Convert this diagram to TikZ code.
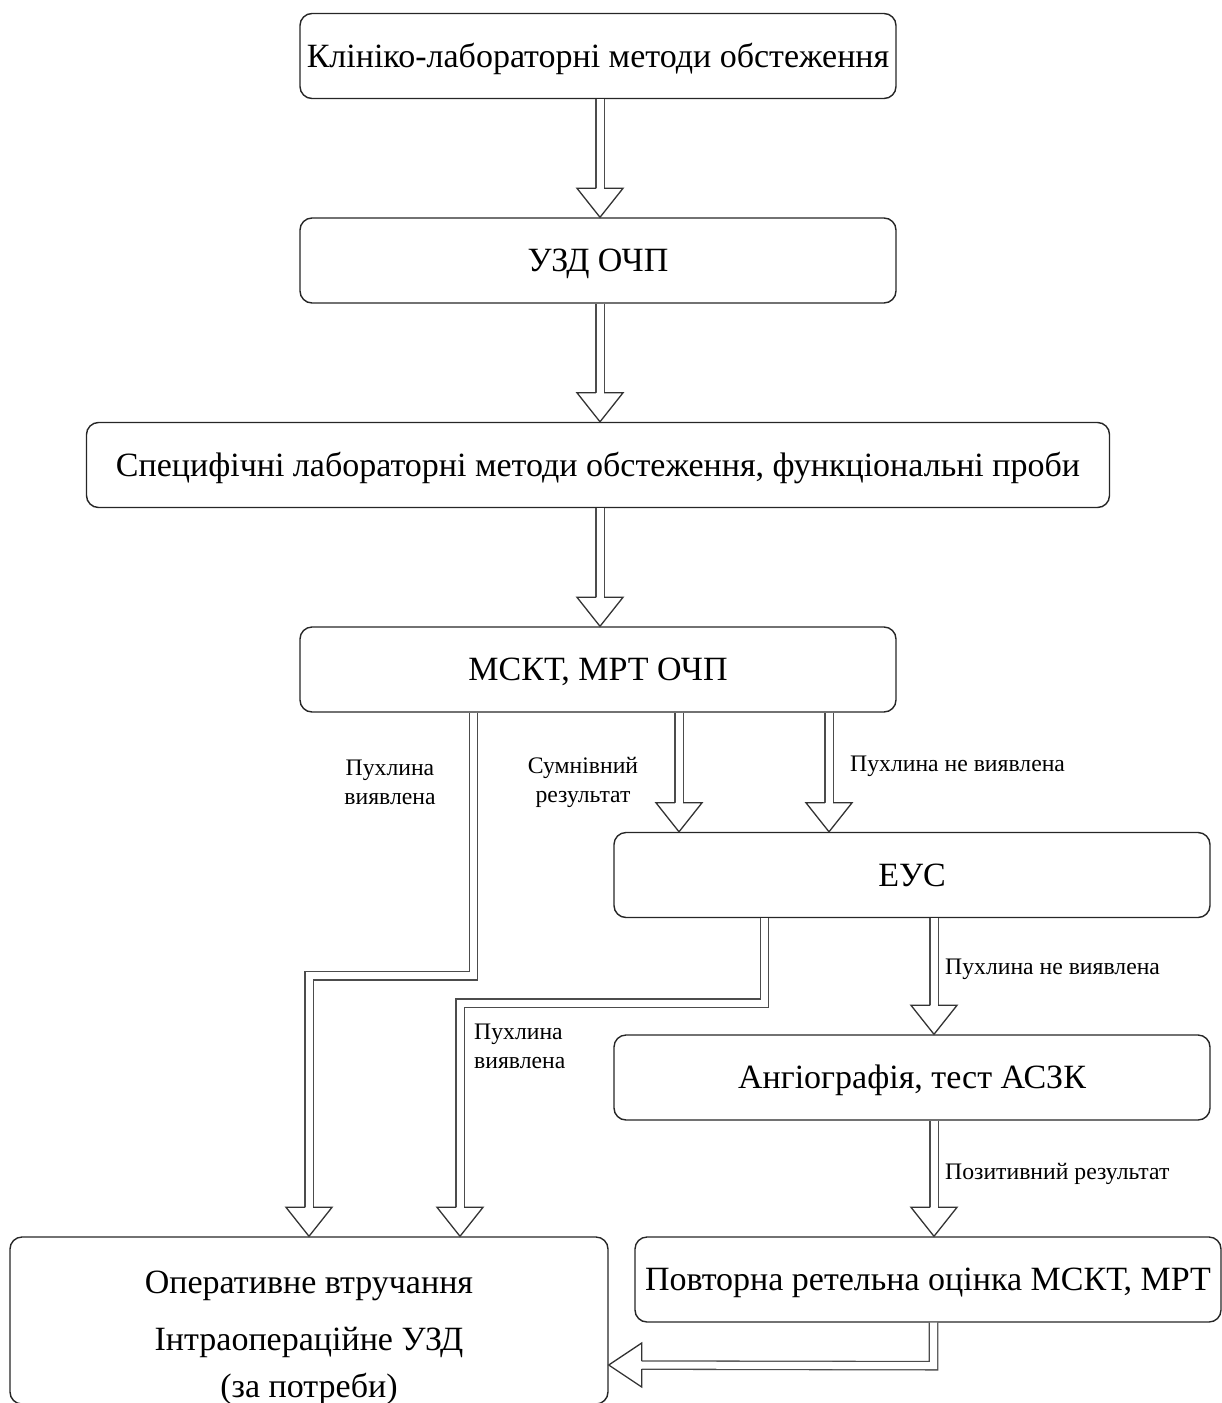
\documentclass[tikz,border=0pt]{standalone}
\usepackage{fontspec}
\setmainfont{Liberation Serif}
\tikzset{
	flowbox/.style={draw=black!85, line width=1.4pt, rounded corners=12pt, minimum height=85pt, inner sep=2pt, text height=24pt, text depth=2pt, font=\fontsize{34}{40}\selectfont},
	lbl/.style={inner sep=0pt, font=\fontsize{23.7}{29}\selectfont},
	shaft/.style={draw=black!70, line width=1.3pt, double=white, double distance=7pt, shorten >=18pt},
	hollowhead/.style={draw=black!80, fill=white, line width=1.3pt},
	headdown/.pic={\filldraw[hollowhead] (-4.15,-29) -- (-23,-29) -- (0,0) -- (23,-29) -- (4.15,-29);},
	headleft/.pic={\filldraw[hollowhead] (33,4.15) -- (33,22) -- (0,0) -- (33,-22) -- (33,-4.15);},
}
\begin{document}
\begin{tikzpicture}[x=1pt, y=-1pt]
	\useasboundingbox (0,0) rectangle (1222,1403);
	\clip (0,0) rectangle (1222,1403);
	% boxes
	\node[flowbox, minimum width=596pt] (klin) at (598,56) {Клініко-лабораторні методи обстеження};
	\node[flowbox, minimum width=596pt] (uzd) at (598,260.5) {УЗД ОЧП};
	\node[flowbox, minimum width=1023pt] (spec) at (598,465) {Специфічні лабораторні методи обстеження, функціональні проби};
	\node[flowbox, minimum width=596pt] (mskt) at (598,669.5) {МСКТ, МРТ ОЧП};
	\node[flowbox, minimum width=596pt] (eus) at (912,875) {ЕУС};
	\node[flowbox, minimum width=596pt] (angio) at (912,1077.5) {Ангіографія, тест АСЗК};
	\node[flowbox, minimum width=586pt] (povt) at (928,1279.5) {Повторна ретельна оцінка МСКТ, МРТ};
	\node[flowbox, minimum width=598pt, minimum height=167pt] (oper) at (309,1320.5) {};
	\node[align=center, font=\fontsize{34}{47}\selectfont] (opertext) at (309,1338) {Оперативне втручання\\[10pt]Інтраопераційне УЗД\\(за потреби)};
	% main column
	\draw[shaft] ([xshift=2pt]klin.south) -- ([xshift=2pt]klin.south |- uzd.north);
	\pic at ([xshift=2pt]klin.south |- uzd.north) {headdown};
	\draw[shaft] ([xshift=2pt]uzd.south) -- ([xshift=2pt]uzd.south |- spec.north);
	\pic at ([xshift=2pt]uzd.south |- spec.north) {headdown};
	\draw[shaft] ([xshift=2pt]spec.south) -- ([xshift=2pt]spec.south |- mskt.north);
	\pic at ([xshift=2pt]spec.south |- mskt.north) {headdown};
	% from mskt
	\draw[shaft] ([xshift=-124.5pt]mskt.south) -- ++(0,263) -| (oper.north);
	\pic at (oper.north) {headdown};
	\draw[shaft] ([xshift=81pt]mskt.south) -- ([xshift=81pt]mskt.south |- eus.north);
	\pic at ([xshift=81pt]mskt.south |- eus.north) {headdown};
	\draw[shaft] ([xshift=231pt]mskt.south) -- ([xshift=231pt]mskt.south |- eus.north);
	\pic at ([xshift=231pt]mskt.south |- eus.north) {headdown};
	\node[lbl, align=center] (tumL) at (390,782) {Пухлина\\виявлена};
	\node[lbl, align=center] (doubt) at (583,782) {Сумнівний\\результат};
	\node[lbl, anchor=west] (notum1) at (850,766) {Пухлина не виявлена};
	% from eus
	\draw[shaft] ([xshift=-147.5pt]eus.south) -- ++(0,85) -| ([xshift=151pt]oper.north);
	\pic at ([xshift=151pt]oper.north) {headdown};
	\draw[shaft] ([xshift=22pt]eus.south) -- ([xshift=22pt]eus.south |- angio.north);
	\pic at ([xshift=22pt]eus.south |- angio.north) {headdown};
	\node[lbl, align=left, anchor=west] (tumR) at (474,1046) {Пухлина\\виявлена};
	\node[lbl, anchor=west] (notum2) at (945,969) {Пухлина не виявлена};
	% from angio
	\draw[shaft] ([xshift=22pt]angio.south) -- ([xshift=22pt]angio.south |- povt.north);
	\pic at ([xshift=22pt]angio.south |- povt.north) {headdown};
	\node[lbl, anchor=west] (posit) at (945,1174) {Позитивний результат};
	% back to oper
	\draw[shaft] ([xshift=5.5pt]povt.south) -- ++(0,43) -- (oper.east |- 0,1365);
	\pic at (oper.east |- 0,1365) {headleft};
\end{tikzpicture}
\end{document}
